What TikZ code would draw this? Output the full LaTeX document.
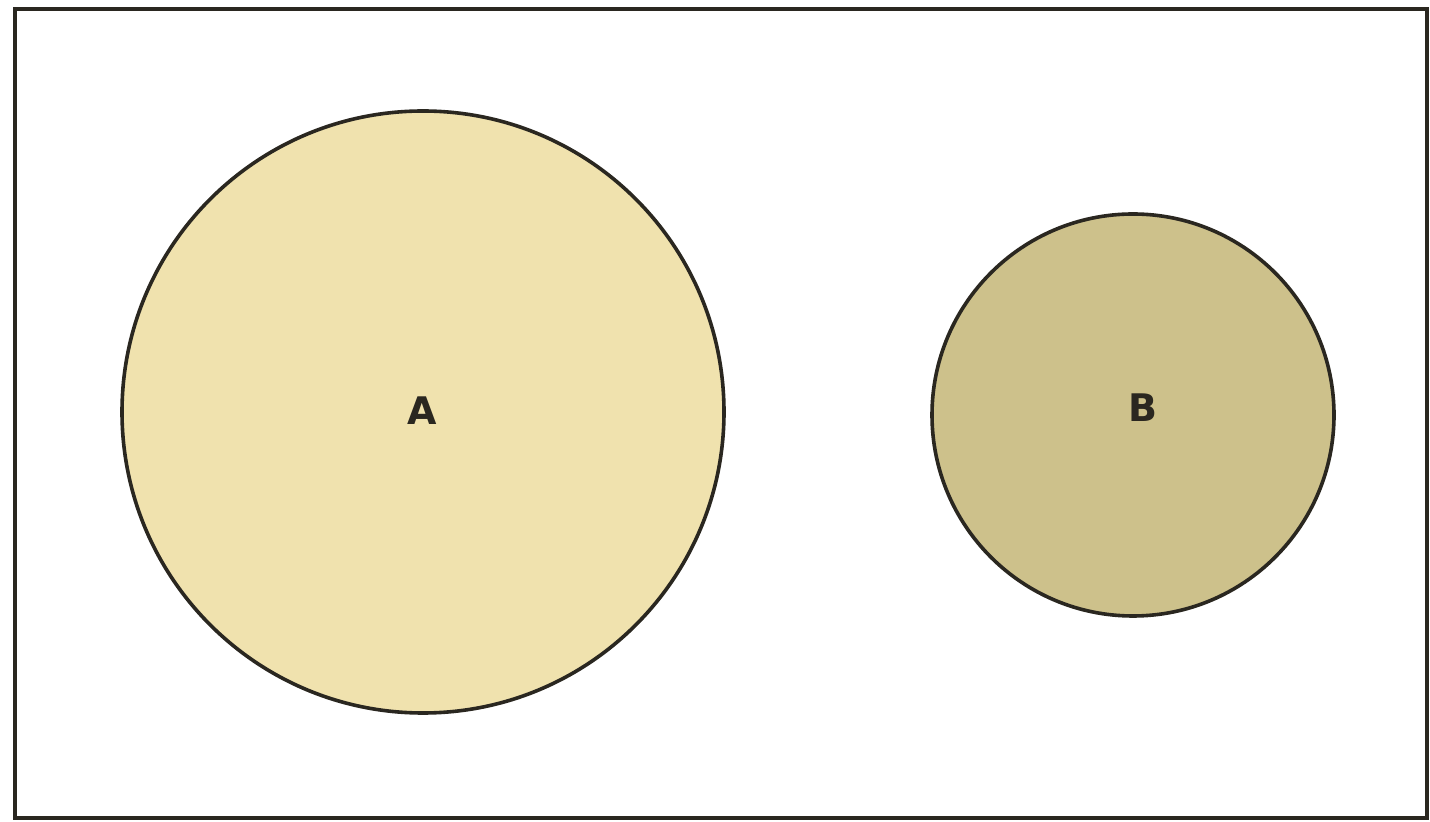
\documentclass[tikz,border=0pt]{standalone}
\usepackage{fontspec}
\setmainfont{DejaVu Sans}
\definecolor{fillA}{HTML}{F0E2AE}
\definecolor{fillB}{HTML}{CDC18B}
\definecolor{edge}{HTML}{2A2720}
\begin{document}
\begin{tikzpicture}[x=0.5pt,y=-0.5pt,
  setcircle/.style={circle, draw=edge, line width=1.8pt, inner sep=0pt},
  setlabel/.style={font=\bfseries\fontsize{19}{22}\selectfont, text=edge}]
\useasboundingbox (0,0) rectangle (1430,822);
\fill[white] (0,0) rectangle (1430,822);
\draw[edge, line width=1.7pt] (15,9) rectangle (1427,818);
\node[setcircle, fill=fillA, minimum size=301pt] (A) at (423,412) {};
\node[setcircle, fill=fillB, minimum size=201pt] (B) at (1133,415) {};
\node[setlabel] (la) at (422,411) {A};
\node[setlabel] (lb) at (1143,408) {B};
\end{tikzpicture}
\end{document}
